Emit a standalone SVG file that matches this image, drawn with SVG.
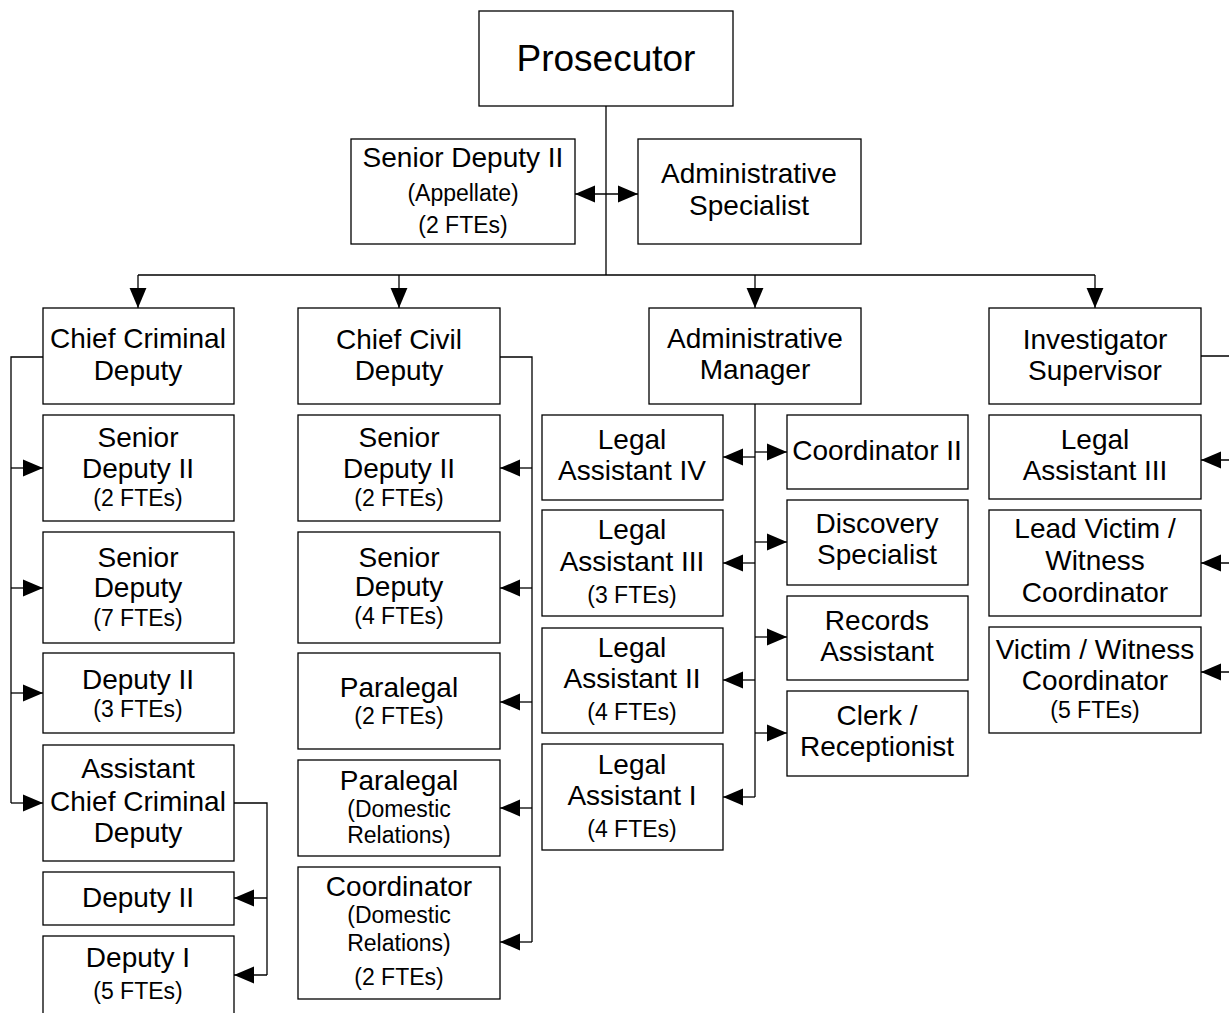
<svg xmlns="http://www.w3.org/2000/svg" width="1229" height="1013" viewBox="0 0 1229 1013">
<defs>
<marker id="ah" markerUnits="userSpaceOnUse" markerWidth="20" markerHeight="18" viewBox="0 0 19 16" refX="19" refY="8" orient="auto-start-reverse">
<path d="M0,0 L19,8 L0,16 Z" fill="#000"/>
</marker>
<style>
.b{fill:#fff;stroke:#000;stroke-width:1.3}
.c{fill:none;stroke:#000;stroke-width:1.3}
.a{fill:none;stroke:#000;stroke-width:1.3;marker-end:url(#ah)}
text{font-family:"Liberation Sans",Arial,sans-serif;text-anchor:middle;fill:#000}
.m{font-size:28px}
.s{font-size:23px}
.p{font-size:37px}
</style>
</defs>
<rect width="1229" height="1013" fill="#fff"/>
<g id="connectors">
<path class="c" d="M606,106 V275 M138,275 H1095"/>
<path class="a" d="M138,275 V308"/>
<path class="a" d="M399,275 V308"/>
<path class="a" d="M755,275 V308"/>
<path class="a" d="M1095,275 V308"/>
<path class="c" d="M575,194 H638" marker-start="url(#ah)" marker-end="url(#ah)"/>
<path class="c" d="M43,357 H11 V803"/>
<path class="a" d="M11,468 H43"/>
<path class="a" d="M11,588 H43"/>
<path class="a" d="M11,693 H43"/>
<path class="a" d="M11,803 H43"/>
<path class="c" d="M234,803 H267 V975"/>
<path class="a" d="M267,898 H234"/>
<path class="a" d="M267,975 H234"/>
<path class="c" d="M500,357 H532 V942"/>
<path class="a" d="M532,468 H500"/>
<path class="a" d="M532,588 H500"/>
<path class="a" d="M532,702 H500"/>
<path class="a" d="M532,808 H500"/>
<path class="a" d="M532,942 H500"/>
<path class="c" d="M755,404 V797"/>
<path class="a" d="M755,457 H723"/>
<path class="a" d="M755,563 H723"/>
<path class="a" d="M755,680 H723"/>
<path class="a" d="M755,797 H723"/>
<path class="a" d="M755,452 H787"/>
<path class="a" d="M755,542 H787"/>
<path class="a" d="M755,637 H787"/>
<path class="a" d="M755,733 H787"/>
<path class="c" d="M1201,356 H1245 V680"/>
<path class="a" d="M1245,460 H1201"/>
<path class="a" d="M1245,563 H1201"/>
<path class="a" d="M1245,672 H1201"/>
</g>
<g id="prosecutor"><rect class="b" x="479" y="11" width="254" height="95"/><text class="p" x="606" y="71">Prosecutor</text></g>
<g id="senior-deputy-appellate"><rect class="b" x="351" y="139" width="224" height="105"/><text class="m" x="463" y="167">Senior Deputy II</text><text class="s" x="463" y="201">(Appellate)</text><text class="s" x="463" y="233">(2 FTEs)</text></g>
<g id="admin-specialist"><rect class="b" x="638" y="139" width="223" height="105"/><text class="m" x="749" y="183">Administrative</text><text class="m" x="749" y="215">Specialist</text></g>

<g id="chief-criminal"><rect class="b" x="43" y="308" width="191" height="96"/><text class="m" x="138" y="348">Chief Criminal</text><text class="m" x="138" y="380">Deputy</text></g>
<g id="cc-senior-deputy-ii"><rect class="b" x="43" y="415" width="191" height="106"/><text class="m" x="138" y="447">Senior</text><text class="m" x="138" y="478">Deputy II</text><text class="s" x="138" y="506">(2 FTEs)</text></g>
<g id="cc-senior-deputy"><rect class="b" x="43" y="532" width="191" height="111"/><text class="m" x="138" y="567">Senior</text><text class="m" x="138" y="597">Deputy</text><text class="s" x="138" y="626">(7 FTEs)</text></g>
<g id="cc-deputy-ii"><rect class="b" x="43" y="653" width="191" height="80"/><text class="m" x="138" y="689">Deputy II</text><text class="s" x="138" y="717">(3 FTEs)</text></g>
<g id="asst-chief-criminal"><rect class="b" x="43" y="745" width="191" height="116"/><text class="m" x="138" y="778">Assistant</text><text class="m" x="138" y="811">Chief Criminal</text><text class="m" x="138" y="842">Deputy</text></g>
<g id="acc-deputy-ii"><rect class="b" x="43" y="872" width="191" height="53"/><text class="m" x="138" y="907">Deputy II</text></g>
<g id="acc-deputy-i"><rect class="b" x="43" y="936" width="191" height="90"/><text class="m" x="138" y="967">Deputy I</text><text class="s" x="138" y="999">(5 FTEs)</text></g>

<g id="chief-civil"><rect class="b" x="298" y="308" width="202" height="96"/><text class="m" x="399" y="349">Chief Civil</text><text class="m" x="399" y="380">Deputy</text></g>
<g id="cv-senior-deputy-ii"><rect class="b" x="298" y="415" width="202" height="106"/><text class="m" x="399" y="447">Senior</text><text class="m" x="399" y="478">Deputy II</text><text class="s" x="399" y="506">(2 FTEs)</text></g>
<g id="cv-senior-deputy"><rect class="b" x="298" y="532" width="202" height="111"/><text class="m" x="399" y="567">Senior</text><text class="m" x="399" y="596">Deputy</text><text class="s" x="399" y="624">(4 FTEs)</text></g>
<g id="cv-paralegal"><rect class="b" x="298" y="653" width="202" height="96"/><text class="m" x="399" y="697">Paralegal</text><text class="s" x="399" y="724">(2 FTEs)</text></g>
<g id="cv-paralegal-dr"><rect class="b" x="298" y="760" width="202" height="96"/><text class="m" x="399" y="790">Paralegal</text><text class="s" x="399" y="817">(Domestic</text><text class="s" x="399" y="843">Relations)</text></g>
<g id="cv-coordinator-dr"><rect class="b" x="298" y="867" width="202" height="132"/><text class="m" x="399" y="896">Coordinator</text><text class="s" x="399" y="923">(Domestic</text><text class="s" x="399" y="951">Relations)</text><text class="s" x="399" y="985">(2 FTEs)</text></g>

<g id="admin-manager"><rect class="b" x="649" y="308" width="212" height="96"/><text class="m" x="755" y="348">Administrative</text><text class="m" x="755" y="379">Manager</text></g>
<g id="legal-assistant-iv"><rect class="b" x="542" y="415" width="181" height="85"/><text class="m" x="632" y="449">Legal</text><text class="m" x="632" y="480">Assistant IV</text></g>
<g id="legal-assistant-iii"><rect class="b" x="542" y="510" width="181" height="106"/><text class="m" x="632" y="539">Legal</text><text class="m" x="632" y="571">Assistant III</text><text class="s" x="632" y="603">(3 FTEs)</text></g>
<g id="legal-assistant-ii"><rect class="b" x="542" y="628" width="181" height="105"/><text class="m" x="632" y="657">Legal</text><text class="m" x="632" y="688">Assistant II</text><text class="s" x="632" y="720">(4 FTEs)</text></g>
<g id="legal-assistant-i"><rect class="b" x="542" y="744" width="181" height="106"/><text class="m" x="632" y="774">Legal</text><text class="m" x="632" y="805">Assistant I</text><text class="s" x="632" y="837">(4 FTEs)</text></g>
<g id="coordinator-ii"><rect class="b" x="787" y="415" width="181" height="74"/><text class="m" x="877" y="460">Coordinator II</text></g>
<g id="discovery-specialist"><rect class="b" x="787" y="500" width="181" height="85"/><text class="m" x="877" y="533">Discovery</text><text class="m" x="877" y="564">Specialist</text></g>
<g id="records-assistant"><rect class="b" x="787" y="596" width="181" height="84"/><text class="m" x="877" y="630">Records</text><text class="m" x="877" y="661">Assistant</text></g>
<g id="clerk-receptionist"><rect class="b" x="787" y="691" width="181" height="85"/><text class="m" x="877" y="725">Clerk /</text><text class="m" x="877" y="756">Receptionist</text></g>

<g id="investigator-supervisor"><rect class="b" x="989" y="308" width="212" height="96"/><text class="m" x="1095" y="349">Investigator</text><text class="m" x="1095" y="380">Supervisor</text></g>
<g id="inv-legal-assistant-iii"><rect class="b" x="989" y="415" width="212" height="84"/><text class="m" x="1095" y="449">Legal</text><text class="m" x="1095" y="480">Assistant III</text></g>
<g id="lead-victim-witness"><rect class="b" x="989" y="510" width="212" height="106"/><text class="m" x="1095" y="538">Lead Victim /</text><text class="m" x="1095" y="570">Witness</text><text class="m" x="1095" y="602">Coordinator</text></g>
<g id="victim-witness"><rect class="b" x="989" y="627" width="212" height="106"/><text class="m" x="1095" y="659">Victim / Witness</text><text class="m" x="1095" y="690">Coordinator</text><text class="s" x="1095" y="718">(5 FTEs)</text></g>
</svg>
